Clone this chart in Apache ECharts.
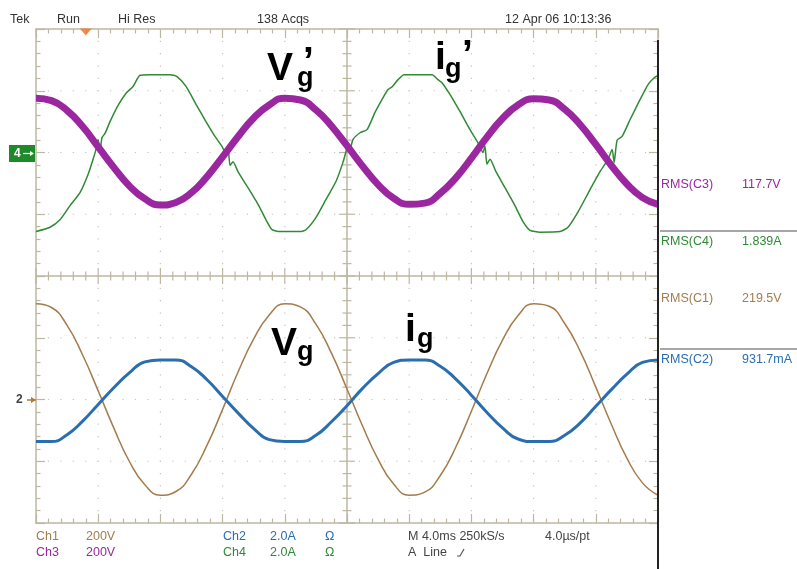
<!DOCTYPE html>
<html><head><meta charset="utf-8">
<script src="https://cdn.jsdelivr.net/npm/echarts@6/dist/echarts.min.js"></script>
<style>html,body{margin:0;padding:0;background:#fff}#c{width:797px;height:569px}</style>
</head><body><div id="c"></div>
<script>
// time base: 4 ms/div, 10 divisions
const timeMs = [0,1,2,3,4,5,6,7,8,9,10,11,12,13,14,15,16,17,18,19,20,21,22,23,24,25,26,27,28,29,30,31,32,33,34,35,36,37,38,39,40];
// vertical values in screen divisions
const ch3 = [2.88,2.84,2.68,2.42,2.09,1.76,1.46,1.25,1.15,1.19,1.35,1.61,1.93,2.26,2.56,2.77,2.88,2.85,2.69,2.43,2.11,1.78,1.48,1.26,1.16,1.18,1.34,1.59,1.91,2.25,2.55,2.77,2.87,2.85,2.70,2.45,2.13,1.79,1.49,1.27,1.16];
const ch1 = [-0.45,-0.51,-0.80,-1.28,-1.86,-2.46,-3.00,-3.38,-3.55,-3.49,-3.21,-2.74,-2.16,-1.55,-1.02,-0.63,-0.45,-0.50,-0.78,-1.25,-1.83,-2.43,-2.97,-3.37,-3.55,-3.50,-3.23,-2.77,-2.19,-1.58,-1.04,-0.64,-0.45,-0.49,-0.77,-1.22,-1.80,-2.40,-2.95,-3.35,-3.55];
const ch2 = [-2.68,-2.68,-2.57,-2.35,-2.08,-1.81,-1.57,-1.39,-1.36,-1.36,-1.47,-1.68,-1.95,-2.22,-2.47,-2.65,-2.68,-2.68,-2.58,-2.36,-2.10,-1.82,-1.58,-1.40,-1.36,-1.36,-1.46,-1.67,-1.93,-2.21,-2.46,-2.64,-2.68,-2.68,-2.58,-2.38,-2.11,-1.84,-1.59,-1.40,-1.36];
const ch4Time = [0,0.90,1.54,2.19,2.83,3.34,3.67,3.86,3.99,4.12,4.24,4.44,4.76,5.27,5.79,6.24,6.69,7.33,8.62,9.07,9.65,10.29,10.93,11.51,11.96,12.22,12.35,12.48,12.67,12.99,13.63,14.28,14.79,15.18,15.69,16.98,17.36,18.01,18.65,19.29,19.74,19.94,20.07,20.19,20.38,20.84,21.29,21.80,22.32,22.64,22.89,23.28,23.67,25.47,25.85,26.11,26.62,27.27,27.91,28.42,28.75,28.87,29.00,29.20,29.58,30.16,30.80,31.32,31.77,32.41,33.70,34.21,34.86,35.63,36.27,36.79,37.05,37.18,37.37,37.69,38.20,38.85,39.36,39.75,40];
const ch4 = [0.72,0.79,0.91,1.14,1.35,1.64,1.89,2.05,2.21,2.02,2.24,2.31,2.50,2.76,2.96,3.07,3.25,3.26,3.26,3.23,3.07,2.78,2.50,2.26,2.10,1.97,2.08,1.79,1.85,1.69,1.43,1.16,0.91,0.75,0.72,0.72,0.75,0.95,1.24,1.53,1.84,2.02,2.16,2.04,2.21,2.32,2.37,2.65,2.89,3.02,3.06,3.18,3.26,3.26,3.18,3.13,2.94,2.66,2.37,2.16,2.00,2.11,1.81,1.89,1.69,1.43,1.14,0.88,0.74,0.71,0.72,0.79,1.04,1.40,1.69,1.89,2.05,1.84,2.20,2.26,2.53,2.86,3.10,3.21,3.25];
const triggerMs = 3.2;
const headerTexts = ['Tek','Run','Hi Res','138 Acqs','12 Apr 06 10:13:36'];
const rmsLabels = ['RMS(C3)','RMS(C4)','RMS(C1)','RMS(C2)'];
const rmsValues = ['117.7V','1.839A','219.5V','931.7mA'];

const C = {ch1:'#a47c4c', ch2:'#2a6eb0', ch3:'#9b27a0', ch4:'#2f8a35', grat:'#bdb7a2', dot:'#c4c4c4'};
const G = {left:36, top:29, width:622, height:494};

const chart = echarts.init(document.getElementById('c'), null, {renderer:'canvas'});
const pair = (t, v) => t.map((x, i) => [x, v[i]]);

function axisBase(extra) {
  return Object.assign({
    type:'value', axisLabel:{show:false},
    axisLine:{show:true, onZero:false, lineStyle:{color:C.grat, width:1.5}},
    axisTick:{show:true, inside:true, length:9, lineStyle:{color:C.grat, width:1.2}},
    minorTick:{show:true, splitNumber:5, length:4.5, lineStyle:{color:C.grat, width:1.2}},
    splitLine:{show:false}
  }, extra);
}

function renderGrat(params, api) {
  const kids = [];
  const ln = (a, b, col, w) => kids.push({type:'line', shape:{x1:a[0],y1:a[1],x2:b[0],y2:b[1]}, style:{stroke:col, lineWidth:w}, silent:true});
  for (let i = 1; i < 10; i++) {
    if (i === 5) continue;
    for (let k = 0; k <= 40; k++) {
      const p = api.coord([i*4, -4 + k*0.2]);
      kids.push({type:'rect', shape:{x:p[0]-0.6, y:p[1]-0.6, width:1.2, height:1.2}, style:{fill:C.dot}, silent:true});
    }
  }
  for (let j = -3; j <= 3; j++) {
    if (j === 0) continue;
    for (let k = 0; k <= 50; k++) {
      const p = api.coord([k*0.8, j]);
      kids.push({type:'rect', shape:{x:p[0]-0.6, y:p[1]-0.6, width:1.2, height:1.2}, style:{fill:C.dot}, silent:true});
    }
  }
  ln(api.coord([20,-4]), api.coord([20,4]), C.grat, 1.5);
  ln(api.coord([0,0]), api.coord([40,0]), C.grat, 1.5);
  for (let k = -20; k <= 20; k++) {
    const p = api.coord([20, k*0.2]);
    const L = (k % 5 === 0) ? 8 : 4.5;
    ln([p[0]-L, p[1]], [p[0]+L, p[1]], C.grat, 1.2);
  }
  for (let k = 0; k <= 50; k++) {
    const p = api.coord([k*0.8, 0]);
    const L = (k % 5 === 0) ? 8 : 4.5;
    ln([p[0], p[1]-L], [p[0], p[1]+L], C.grat, 1.2);
  }
  return {type:'group', children:kids};
}

const textFont = '"Liberation Sans", Arial, sans-serif';
const txt = (x, y, s, col, size, weight) => ({type:'text', x:x, y:y, silent:true, z:100,
  style:{text:s, fill:col, font:(weight||'') + ' ' + (size||12.5) + 'px ' + textFont, verticalAlign:'middle', align:'left'}});
const big = (x, y, s, size) => ({type:'text', x:x, y:y, silent:true, z:100,
  style:{text:s, fill:'#000', font:'bold ' + size + 'px ' + textFont, verticalAlign:'middle', align:'left'}});
const seg = (x1, y1, x2, y2, col, w) => ({type:'line', z:100, silent:true, shape:{x1:x1, y1:y1, x2:x2, y2:y2}, style:{stroke:col, lineWidth:w}});

const graphics = [
  txt(10, 20, headerTexts[0], '#333'),
  txt(57, 20, headerTexts[1], '#333'),
  txt(118, 20, headerTexts[2], '#333'),
  txt(257, 20, headerTexts[3], '#333'),
  txt(505, 20, headerTexts[4], '#333'),
  txt(36, 537, 'Ch1', C.ch1), txt(86, 537, '200V', C.ch1),
  txt(36, 553, 'Ch3', C.ch3), txt(86, 553, '200V', C.ch3),
  txt(223, 537, 'Ch2', C.ch2), txt(270, 537, '2.0A', C.ch2), txt(325, 537, 'Ω', C.ch2),
  txt(223, 553, 'Ch4', C.ch4), txt(270, 553, '2.0A', C.ch4), txt(325, 553, 'Ω', C.ch4),
  txt(408, 537, 'M 4.0ms 250kS/s', '#444'), txt(545, 537, '4.0µs/pt', '#444'),
  txt(408, 553, 'A  Line', '#444'),
  {type:'polyline', z:100, shape:{points:[[457,556],[460,556],[464,549]]}, style:{stroke:'#555', lineWidth:1.2}, silent:true},
  seg(658, 40, 658, 569, '#222', 2),
  seg(660, 231, 797, 231, '#888', 1.5),
  seg(660, 349, 797, 349, '#888', 1.5),
  txt(661, 185, rmsLabels[0], C.ch3), txt(742, 185, rmsValues[0], C.ch3),
  txt(661, 242, rmsLabels[1], C.ch4), txt(742, 242, rmsValues[1], C.ch4),
  txt(661, 299, rmsLabels[2], C.ch1), txt(742, 299, rmsValues[2], C.ch1),
  txt(661, 360, rmsLabels[3], C.ch2), txt(742, 360, rmsValues[3], C.ch2),
  {type:'rect', z:100, shape:{x:9, y:145, width:26, height:17}, style:{fill:'#1f8a2a'}, silent:true},
  txt(14, 153.5, '4', '#fff', 12, 'bold'),
  seg(23, 153.5, 31, 153.5, '#fff', 1.2),
  {type:'polygon', z:100, shape:{points:[[34,153.5],[30,151],[30,156]]}, style:{fill:'#fff'}, silent:true},
  txt(16, 400, '2', '#444', 12, 'bold'),
  seg(27, 400, 36, 400, '#b07a3a', 1.5),
  {type:'polygon', z:100, shape:{points:[[36,400],[31,397],[31,403]]}, style:{fill:'#b07a3a'}, silent:true},
  big(267, 69, 'V', 39), big(297, 79, 'g', 27), big(303, 63, '’', 39),
  big(435, 58, 'i', 39), big(445, 70, 'g', 27), big(462, 56, '’', 39),
  big(271, 344, 'V', 39), big(297, 353, 'g', 27),
  big(405, 330, 'i', 39), big(417, 340, 'g', 27)
];

chart.setOption({
  animation:false,
  backgroundColor:'#fff',
  grid:{left:G.left, top:G.top, width:G.width, height:G.height, show:false},
  xAxis:[
    axisBase({min:0, max:40, interval:4, position:'bottom'}),
    axisBase({min:0, max:40, interval:4, position:'top'})
  ],
  yAxis:[
    axisBase({min:-4, max:4, interval:1, position:'left'}),
    axisBase({min:-4, max:4, interval:1, position:'right'})
  ],
  series:[
    {type:'custom', renderItem:renderGrat, data:[[0,0]], silent:true, z:1},
    {name:'Ch4', type:'line', data:pair(ch4Time, ch4), showSymbol:false, smooth:0.2,
      lineStyle:{color:C.ch4, width:1.5}, z:3},
    {name:'Ch3', type:'line', data:pair(timeMs, ch3), showSymbol:false, smooth:true,
      lineStyle:{color:C.ch3, width:7}, z:4},
    {name:'Ch1', type:'line', data:pair(timeMs, ch1), showSymbol:false, smooth:true,
      lineStyle:{color:C.ch1, width:1.5}, z:3},
    {name:'Ch2', type:'line', data:pair(timeMs, ch2), showSymbol:false, smooth:true,
      lineStyle:{color:C.ch2, width:3}, z:4},
    {name:'trigger', type:'scatter', data:[[triggerMs, 4]], symbol:'triangle', symbolRotate:180,
      symbolSize:[12,7], symbolOffset:[0,3], itemStyle:{color:'#f0701e'}, z:6, silent:true}
  ],
  graphic:graphics
});
</script></body></html>
